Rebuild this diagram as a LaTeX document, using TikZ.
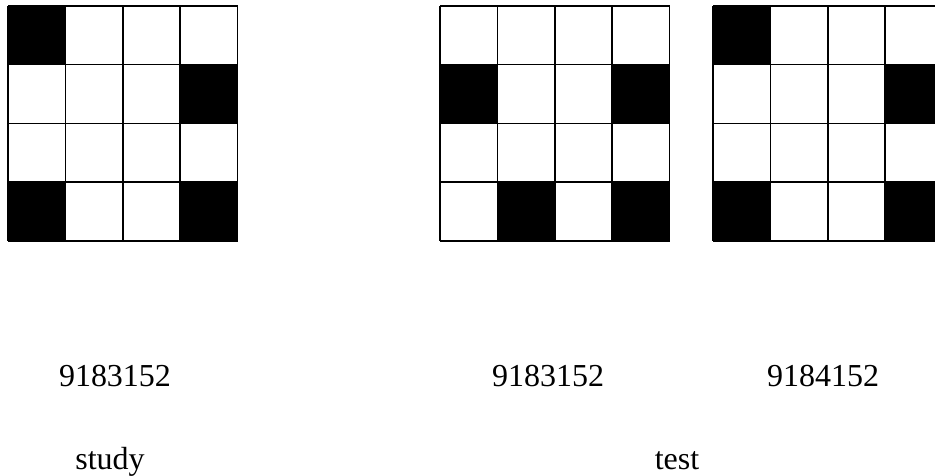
\documentclass[tikz,border=0pt]{standalone}
\usepackage{fontspec}
\setmainfont{Liberation Serif}
\usepackage{tikz}
\tikzset{
  gridline/.style={draw=black,line width=1.5pt},
  lbl/.style={font=\fontsize{32}{38}\selectfont,text=black,inner sep=0pt,anchor=base},
}

\begin{document}
\begin{tikzpicture}[x=1pt,y=1pt]
  \useasboundingbox (0,0) rectangle (935,476);
  \clip (0,0) rectangle (935,476);
  \foreach \gx/\blk in {8/{0/0,3/1,0/3,3/3}, 440/{0/1,3/1,1/3,3/3}, 713/{0/0,3/1,0/3,3/3}}{
    \begin{scope}[shift={(\gx,470)}]
      \foreach \c/\r in \blk {\fill[black] (\c*57.4,-\r*58.7) rectangle ++(57.4,-58.7);}
      \foreach \k in {0,...,4} {
        \draw[gridline] (\k*57.4,0) -- (\k*57.4,-234.8);
        \draw[gridline] (0,-\k*58.7) -- (229.6,-\k*58.7);}
    \end{scope}}
  \node[lbl] (numStudy) at (115,89) {9183152};
  \node[lbl] (numTestA) at (548,89) {9183152};
  \node[lbl] (numTestB) at (823,89) {9184152};
  \node[lbl] (study) at (110,6) {study};
  \node[lbl] (test) at (677,6) {test};
\end{tikzpicture}
\end{document}
